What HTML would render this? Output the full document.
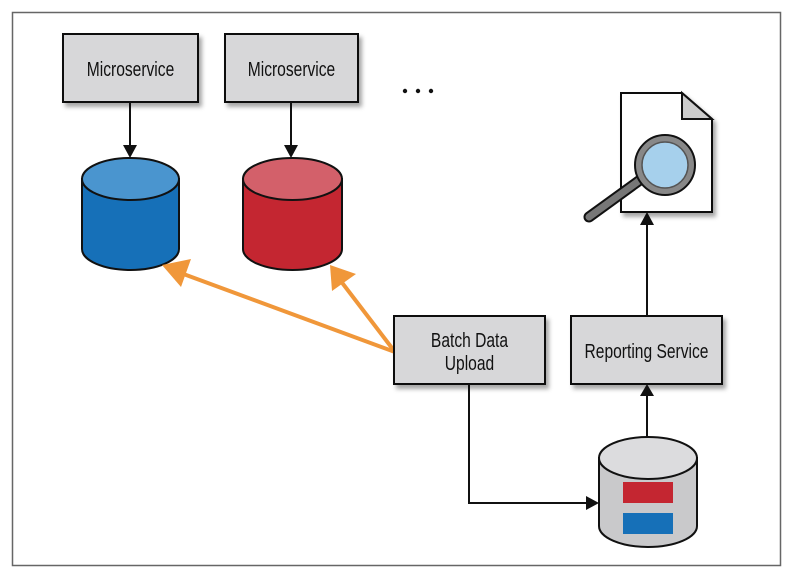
<!DOCTYPE html>
<html><head><style>
html,body{margin:0;padding:0;background:#fff;}
svg{display:block;}
text{font-family:"Liberation Sans",sans-serif;font-size:20px;fill:#111;}
</style></head><body>
<svg width="810" height="578" viewBox="0 0 810 578">
<defs>
<filter id="sh" x="-10%" y="-10%" width="130%" height="140%"><feDropShadow dx="3" dy="4" stdDeviation="2" flood-opacity="0.35"/></filter>
</defs>
<rect x="12.5" y="12.5" width="768" height="553" fill="#fff" stroke="#666" stroke-width="1.5"/>
<!-- microservices -->
<rect x="63" y="34" width="135" height="68" fill="#d7d7d9" stroke="#111" stroke-width="2" filter="url(#sh)"/>
<text x="130.5" y="76" text-anchor="middle" transform="translate(130.5 0) scale(0.78 1) translate(-130.5 0)">Microservice</text>
<rect x="225" y="34" width="133" height="68" fill="#d7d7d9" stroke="#111" stroke-width="2" filter="url(#sh)"/>
<text x="291.5" y="76" text-anchor="middle" transform="translate(291.5 0) scale(0.78 1) translate(-291.5 0)">Microservice</text>
<circle cx="405" cy="91" r="2.2" fill="#111"/><circle cx="418" cy="91" r="2.2" fill="#111"/><circle cx="431" cy="91" r="2.2" fill="#111"/>
<!-- arrows down -->
<line x1="130" y1="102" x2="130" y2="146" stroke="#111" stroke-width="2"/>
<polygon points="123,145 137,145 130,158" fill="#111"/>
<line x1="291" y1="102" x2="291" y2="146" stroke="#111" stroke-width="2"/>
<polygon points="284,145 298,145 291,158" fill="#111"/>
<!-- blue cyl -->
<path d="M82,179 L82,249 A48.5,21 0 0 0 179,249 L179,179 Z" fill="#1670b8" stroke="#111" stroke-width="2"/>
<ellipse cx="130.5" cy="179" rx="48.5" ry="21" fill="#4a95cf" stroke="#111" stroke-width="2"/>
<!-- red cyl -->
<path d="M243,179 L243,249 A49.5,21 0 0 0 342,249 L342,179 Z" fill="#c42631" stroke="#111" stroke-width="2"/>
<ellipse cx="292.5" cy="179" rx="49.5" ry="21" fill="#d3606a" stroke="#111" stroke-width="2"/>
<!-- orange arrows -->
<line x1="395" y1="352" x2="178" y2="272" stroke="#f0973a" stroke-width="4"/>
<polygon points="162,265 191,259 181,287" fill="#f0973a"/>
<line x1="395" y1="352" x2="340" y2="280" stroke="#f0973a" stroke-width="4"/>
<polygon points="330,265 356,274 332,291" fill="#f0973a"/>
<!-- batch -->
<rect x="394" y="316" width="151" height="68" fill="#d7d7d9" stroke="#111" stroke-width="2" filter="url(#sh)"/>
<text x="469.5" y="347" text-anchor="middle" transform="translate(469.5 0) scale(0.78 1) translate(-469.5 0)">Batch Data</text>
<text x="469.5" y="370" text-anchor="middle" transform="translate(469.5 0) scale(0.78 1) translate(-469.5 0)">Upload</text>
<!-- reporting -->
<rect x="571" y="316" width="151" height="68" fill="#d7d7d9" stroke="#111" stroke-width="2" filter="url(#sh)"/>
<text x="646.5" y="358" text-anchor="middle" transform="translate(646.5 0) scale(0.78 1) translate(-646.5 0)">Reporting Service</text>
<!-- batch to db -->
<polyline points="469,384 469,503 588,503" fill="none" stroke="#111" stroke-width="2"/>
<polygon points="586,496 586,510 599,503" fill="#111"/>
<!-- db to reporting -->
<line x1="647" y1="437" x2="647" y2="395" stroke="#111" stroke-width="2"/>
<polygon points="640,396 654,396 647,384" fill="#111"/>
<!-- reporting to doc -->
<line x1="647" y1="316" x2="647" y2="224" stroke="#111" stroke-width="2"/>
<polygon points="640,225 654,225 647,212" fill="#111"/>
<!-- gray db -->
<path d="M599,458 L599,526 A49,21 0 0 0 697,526 L697,458 Z" fill="#c9c9cb" stroke="#111" stroke-width="2"/>
<ellipse cx="648" cy="458" rx="49" ry="21" fill="#dcdcde" stroke="#111" stroke-width="2"/>
<rect x="623" y="482" width="50" height="21" fill="#c42631"/>
<rect x="623" y="513" width="50" height="21" fill="#1670b8"/>
<!-- document -->
<path d="M621,93 L682,93 L712,119 L712,212 L621,212 Z" fill="#fff" stroke="#111" stroke-width="2" filter="url(#sh)"/>
<path d="M682,93 L682,119 L712,119 Z" fill="#ccc" stroke="#111" stroke-width="2"/>
<line x1="589" y1="217" x2="640" y2="180" stroke="#111" stroke-width="11" stroke-linecap="round"/>
<line x1="589" y1="217" x2="640" y2="180" stroke="#777" stroke-width="7" stroke-linecap="round"/>
<circle cx="665" cy="165" r="30" fill="#888" stroke="#111" stroke-width="2"/>
<circle cx="665" cy="165" r="23" fill="#a6d0ec" stroke="#555" stroke-width="1.5"/>
</svg>
</body></html>
